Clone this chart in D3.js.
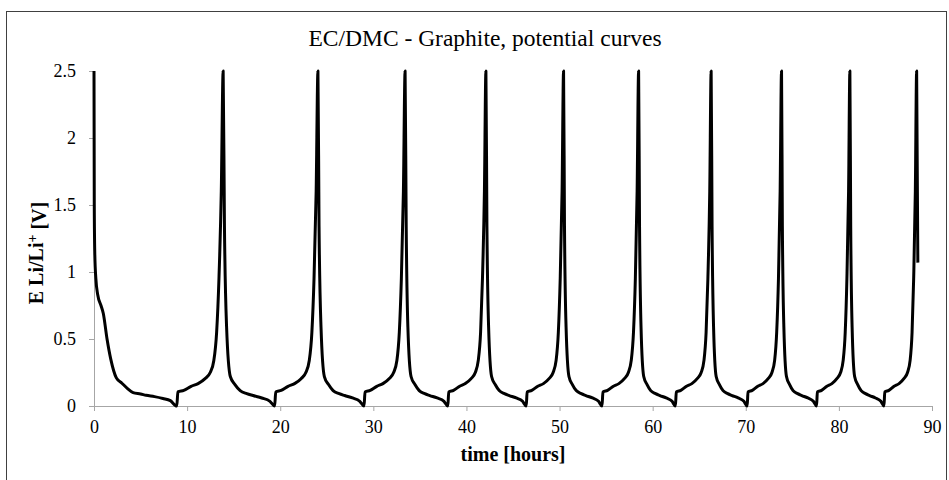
<!doctype html>
<html lang="en">
<head>
<meta charset="UTF-8">
<script src="https://d3js.org/d3.v7.min.js"></script>
<style>
body {
  margin: 0;
  background: #fff;
}
svg text {
  font-family: "Liberation Serif", "Times New Roman", serif;
  fill: #000;
}
.axis path, .axis line {
  stroke: #a6a6a6;
}
.axis text {
  font-size: 18px;
}
.curve {
  fill: none;
  stroke: #000;
  stroke-width: 3px;
  stroke-linejoin: round;
}
</style>
<title>EC/DMC - Graphite, potential curves</title>
</head>
<body>
<div id="chart"></div>
<script>
'use strict';

var chartTitle = "EC/DMC - Graphite, potential curves";
var xTicks = [0, 10, 20, 30, 40, 50, 60, 70, 80, 90];
var yTicks = [0, 0.5, 1, 1.5, 2, 2.5];

// [time (h), E Li/Li+ (V)], one array per cycle
var cycle1 = [
  [0, 2.5], [0.03, 1.5], [0.08, 1.15], [0.2, 0.95], [0.4, 0.83], [0.75, 0.75],
  [1.0, 0.69], [1.4, 0.5], [1.8, 0.35], [2.4, 0.21], [3.0, 0.17], [3.6, 0.13],
  [4.2, 0.10], [5.0, 0.09], [5.6, 0.08], [6.5, 0.07], [7.4, 0.056], [8.2, 0.04],
  [8.89, 0], [9.01, 0.105], [9.64, 0.117], [10.43, 0.147], [11.18, 0.167],
  [11.93, 0.204], [12.48, 0.25], [12.87, 0.34], [13.17, 0.55], [13.42, 0.95],
  [13.67, 1.6], [13.87, 2.5]
];
var cycle2 = [
  [14.01, 1.34], [14.24, 0.59], [14.64, 0.22], [15.14, 0.16], [15.70, 0.115],
  [16.41, 0.092], [17.08, 0.078], [18.02, 0.06], [18.90, 0.035], [19.40, 0],
  [19.52, 0.105], [20.10, 0.117], [20.84, 0.147], [21.54, 0.167], [22.24, 0.204],
  [22.75, 0.25], [23.12, 0.34], [23.40, 0.55], [23.63, 0.95], [23.86, 1.6], [24.05, 2.5]
];
var cycle3 = [
  [24.17, 1.34], [24.38, 0.59], [24.74, 0.22], [25.19, 0.16], [25.68, 0.115],
  [26.33, 0.092], [26.92, 0.078], [27.76, 0.06], [28.55, 0.035], [29.00, 0],
  [29.11, 0.105], [29.66, 0.117], [30.37, 0.147], [31.03, 0.167], [31.69, 0.204],
  [32.18, 0.25], [32.53, 0.34], [32.79, 0.55], [33.01, 0.95], [33.23, 1.6], [33.41, 2.5]
];
var cycle4 = [
  [33.53, 1.34], [33.71, 0.59], [34.05, 0.22], [34.47, 0.16], [34.93, 0.115],
  [35.52, 0.092], [36.07, 0.078], [36.85, 0.06], [37.59, 0.035], [38.00, 0],
  [38.10, 0.105], [38.61, 0.117], [39.27, 0.147], [39.88, 0.167], [40.50, 0.204],
  [40.95, 0.25], [41.27, 0.34], [41.52, 0.55], [41.72, 0.95], [41.93, 1.6], [42.09, 2.5]
];
var cycle5 = [
  [42.20, 1.34], [42.38, 0.59], [42.70, 0.22], [43.09, 0.16], [43.52, 0.115],
  [44.08, 0.092], [44.60, 0.078], [45.34, 0.06], [46.03, 0.035], [46.42, 0],
  [46.52, 0.105], [47.02, 0.117], [47.66, 0.147], [48.27, 0.167], [48.87, 0.204],
  [49.31, 0.25], [49.63, 0.34], [49.87, 0.55], [50.07, 0.95], [50.27, 1.6], [50.43, 2.5]
];
var cycle6 = [
  [50.53, 1.34], [50.70, 0.59], [51.01, 0.22], [51.38, 0.16], [51.79, 0.115],
  [52.33, 0.092], [52.83, 0.078], [53.53, 0.06], [54.19, 0.035], [54.56, 0],
  [54.66, 0.105], [55.15, 0.117], [55.78, 0.147], [56.37, 0.167], [56.96, 0.204],
  [57.39, 0.25], [57.70, 0.34], [57.94, 0.55], [58.14, 0.95], [58.33, 1.6], [58.49, 2.5]
];
var cycle7 = [
  [58.59, 1.34], [58.75, 0.59], [59.04, 0.22], [59.40, 0.16], [59.79, 0.115],
  [60.31, 0.092], [60.78, 0.078], [61.45, 0.06], [62.09, 0.035], [62.44, 0],
  [62.54, 0.105], [63.02, 0.117], [63.63, 0.147], [64.21, 0.167], [64.78, 0.204],
  [65.21, 0.25], [65.51, 0.34], [65.74, 0.55], [65.93, 0.95], [66.13, 1.6], [66.28, 2.5]
];
var cycle8 = [
  [66.38, 1.34], [66.54, 0.59], [66.82, 0.22], [67.17, 0.16], [67.56, 0.115],
  [68.06, 0.092], [68.53, 0.078], [69.18, 0.06], [69.80, 0.035], [70.15, 0],
  [70.24, 0.105], [70.70, 0.117], [71.29, 0.147], [71.85, 0.167], [72.40, 0.204],
  [72.81, 0.25], [73.10, 0.34], [73.32, 0.55], [73.51, 0.95], [73.69, 1.6], [73.84, 2.5]
];
var cycle9 = [
  [73.93, 1.34], [74.09, 0.59], [74.37, 0.22], [74.71, 0.16], [75.08, 0.115],
  [75.57, 0.092], [76.02, 0.078], [76.66, 0.06], [77.26, 0.035], [77.60, 0],
  [77.69, 0.105], [78.14, 0.117], [78.71, 0.147], [79.25, 0.167], [79.78, 0.204],
  [80.18, 0.25], [80.46, 0.34], [80.68, 0.55], [80.86, 0.95], [81.04, 1.6], [81.18, 2.5]
];
var cycle10 = [
  [81.27, 1.34], [81.42, 0.59], [81.69, 0.22], [82.02, 0.16], [82.39, 0.115],
  [82.86, 0.092], [83.30, 0.078], [83.93, 0.06], [84.51, 0.035], [84.84, 0],
  [84.93, 0.105], [85.37, 0.117], [85.93, 0.147], [86.46, 0.167], [86.98, 0.204],
  [87.37, 0.25], [87.65, 0.34], [87.86, 0.55], [88.03, 0.95], [88.21, 1.6], [88.35, 2.5],
  [88.48, 1.07]
];

var cycles = [cycle1, cycle2, cycle3, cycle4, cycle5, cycle6, cycle7, cycle8, cycle9, cycle10];
var data = [].concat.apply([], cycles);

var width = 949,
    height = 480,
    margin = {top: 71, right: 17, bottom: 74, left: 94};

var x = d3.scaleLinear().domain([0, 90]).range([margin.left, width - margin.right]),
    y = d3.scaleLinear().domain([0, 2.5]).range([height - margin.bottom, margin.top]);

var svg = d3.select("#chart").append("svg")
    .attr("width", width)
    .attr("height", height);

// outer frame of the chart area (bottom edge runs past the window)
svg.append("rect")
    .attr("x", 6.5)
    .attr("y", 11.5)
    .attr("width", 940)
    .attr("height", 472)
    .attr("fill", "#fff")
    .attr("stroke", "#404040")
    .attr("stroke-width", 1);

svg.append("text")
    .attr("x", 485)
    .attr("y", 46)
    .attr("text-anchor", "middle")
    .style("font-size", "23.5px")
    .text(chartTitle);

svg.append("g")
    .attr("class", "axis")
    .attr("transform", "translate(0," + y(0) + ")")
    .call(d3.axisBottom(x).tickValues(xTicks).tickSize(5).tickSizeOuter(0).tickPadding(8))
    .call(function(g) { g.selectAll("text").attr("dy", "0.75em"); });

svg.append("g")
    .attr("class", "axis")
    .attr("transform", "translate(" + x(0) + ",0)")
    .call(d3.axisLeft(y).tickValues(yTicks).tickSize(5).tickSizeOuter(0).tickPadding(13)
      .tickFormat(function(d) { return String(d); }));

svg.selectAll(".axis").attr("font-family", null).attr("font-size", null);
svg.selectAll(".axis path").attr("stroke", null);
svg.selectAll(".axis line").attr("stroke", null);
svg.selectAll(".axis text").attr("fill", null);

var line = d3.line()
    .x(function(d) { return x(d[0]); })
    .y(function(d) { return y(d[1]); })
    .curve(d3.curveMonotoneX);

svg.append("path")
    .datum(data)
    .attr("class", "curve")
    .attr("d", line);

svg.append("text")
    .attr("x", 513)
    .attr("y", 461)
    .attr("text-anchor", "middle")
    .style("font-size", "20px")
    .style("font-weight", "bold")
    .text("time [hours]");

var yLabel = svg.append("text")
    .attr("transform", "translate(43,253) rotate(-90)")
    .attr("text-anchor", "middle")
    .style("font-size", "20px")
    .style("font-weight", "bold");
yLabel.append("tspan").text("E Li/Li");
yLabel.append("tspan")
    .attr("dy", "-0.45em")
    .style("font-size", "14px")
    .text("+");
yLabel.append("tspan")
    .attr("dy", "0.45em")
    .text(" [V]");
</script>
</body>
</html>
